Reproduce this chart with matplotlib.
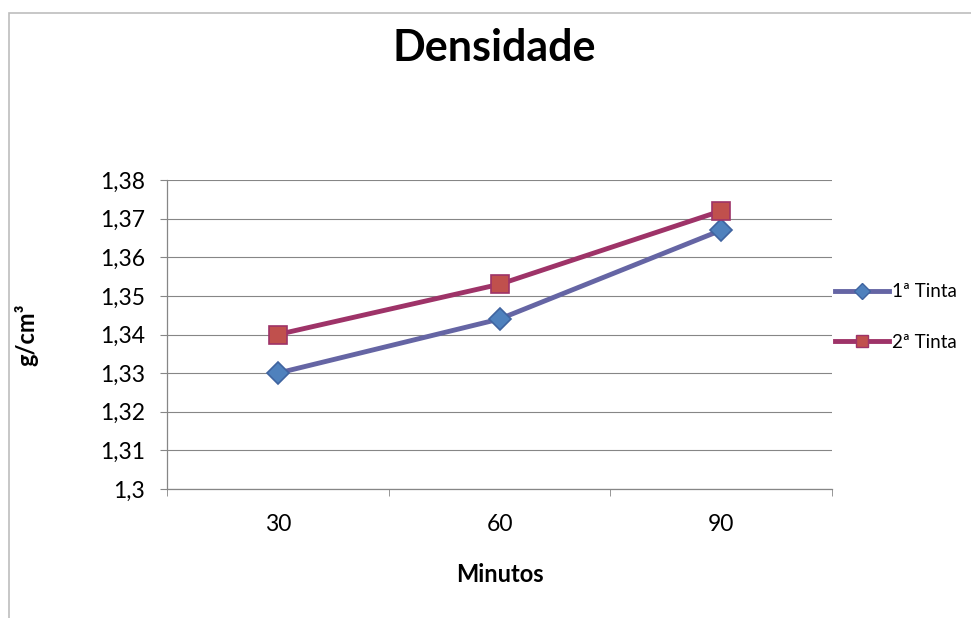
import matplotlib
matplotlib.use("Agg")
import matplotlib.pyplot as plt
from matplotlib.patches import Rectangle
from matplotlib.lines import Line2D

plt.rcParams['font.family'] = ['Lato', 'DejaVu Sans']

categories = ["30", "60", "90"]
serie1_name = "1ª Tinta"
serie2_name = "2ª Tinta"
serie1 = [1.330, 1.344, 1.367]
serie2 = [1.340, 1.353, 1.372]
yticks = [1.30, 1.31, 1.32, 1.33, 1.34, 1.35, 1.36, 1.37, 1.38]
ytick_labels = ["1,3", "1,31", "1,32", "1,33", "1,34", "1,35", "1,36", "1,37", "1,38"]

W, H = 971, 618
fig = plt.figure(figsize=(W / 100, H / 100), dpi=100)

# chart frame
fig.patches.append(Rectangle((9 / W, -0.01), 1.0, 1 - 13 / H + 0.01, transform=fig.transFigure,
                             fill=False, edgecolor="#BDBDBD", linewidth=1.2))

left, right, top, bottom = 167, 832, 180, 489
ax = fig.add_axes([left / W, 1 - bottom / H, (right - left) / W, (bottom - top) / H])

x = list(range(len(categories)))
c1_line, c1_face, c1_edge = "#6565A4", "#4F81BD", "#3F64A0"
c2_line, c2_face, c2_edge = "#9E3368", "#C0504D", "#9E3368"

ax.plot(x, serie1, color=c1_line, linewidth=3.5, marker="D", markersize=11,
        markerfacecolor=c1_face, markeredgecolor=c1_edge, markeredgewidth=1.2, zorder=3)
ax.plot(x, serie2, color=c2_line, linewidth=3.5, marker="s", markersize=13,
        markerfacecolor=c2_face, markeredgecolor=c2_edge, markeredgewidth=1.2, zorder=3)

ax.set_xlim(-0.5, len(categories) - 0.5)
ax.set_ylim(yticks[0], yticks[-1])
ax.set_yticks(yticks)
ax.set_yticklabels(ytick_labels, fontsize=16.5)
ax.set_xticks(x)
ax.set_xticklabels(categories, fontsize=16.5)
ax.set_xticks([i - 0.5 for i in range(len(categories) + 1)], minor=True)
ax.tick_params(axis="x", which="major", length=0, pad=18)
ax.tick_params(axis="x", which="minor", length=5, color="#868686", direction="out")
ax.tick_params(axis="y", length=5, color="#868686", direction="out", pad=11)
ax.grid(axis="y", color="#868686", linewidth=0.8)
ax.set_axisbelow(True)
for s in ["top", "right"]:
    ax.spines[s].set_visible(False)
for s in ["left", "bottom"]:
    ax.spines[s].set_color("#868686")
    ax.spines[s].set_linewidth(0.9)

ax.set_xlabel("Minutos", fontsize=17, fontweight="bold", labelpad=20)
ax.set_ylabel("g/cm³", fontsize=17, fontweight="bold", labelpad=44)

fig.text(494 / W, 1 - 48 / H, "Densidade", ha="center", va="center",
         fontsize=31, fontweight="bold")

handles = [
    Line2D([0], [0], color=c1_line, linewidth=3.5, marker="D", markersize=8,
           markerfacecolor=c1_face, markeredgecolor=c1_edge),
    Line2D([0], [0], color=c2_line, linewidth=3.5, marker="s", markersize=9,
           markerfacecolor=c2_face, markeredgecolor=c2_edge),
]
fig.legend(handles, [serie1_name, serie2_name], loc="center left",
           bbox_to_anchor=(835 / W, 1 - 317 / H), frameon=False, fontsize=13.5,
           borderaxespad=0, borderpad=0,
           handlelength=2.9, handletextpad=0.15, labelspacing=1.8)

fig.savefig("out.png", dpi=100)
